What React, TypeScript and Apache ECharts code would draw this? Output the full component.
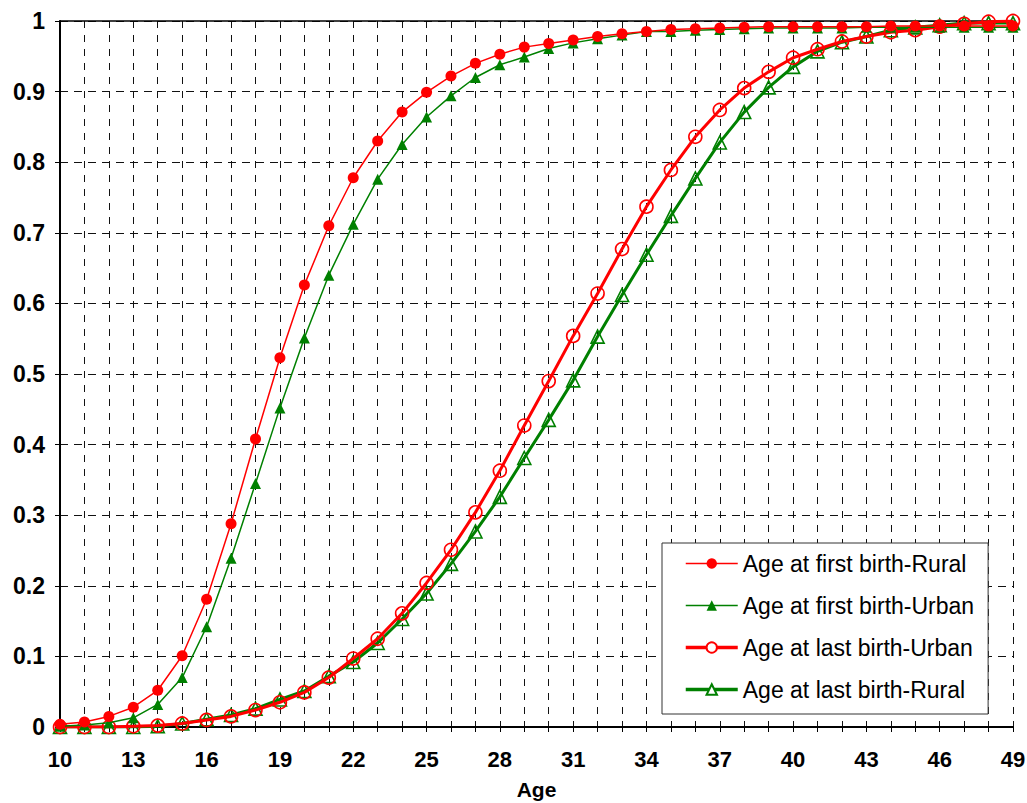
import React, { useEffect, useRef } from "react";
import * as echarts from "echarts";

const ages = [10,11,12,13,14,15,16,17,18,19,20,21,22,23,24,25,26,27,28,29,30,31,32,33,34,35,36,37,38,39,40,41,42,43,44,45,46,47,48,49];

const firstRural = [0.004,0.007,0.015,0.028,0.052,0.101,0.181,0.288,0.408,0.523,0.626,0.710,0.778,0.830,0.871,0.899,0.922,0.940,0.953,0.963,0.968,0.973,0.978,0.982,0.985,0.988,0.989,0.990,0.991,0.992,0.992,0.992,0.992,0.992,0.993,0.993,0.993,0.993,0.993,0.993];
const firstUrban = [0.001,0.003,0.006,0.013,0.032,0.070,0.142,0.239,0.345,0.452,0.551,0.640,0.712,0.776,0.825,0.864,0.894,0.920,0.938,0.949,0.961,0.969,0.975,0.980,0.985,0.985,0.987,0.988,0.989,0.990,0.990,0.990,0.990,0.991,0.991,0.991,0.991,0.991,0.991,0.991];
const lastUrban = [0.000,0.000,0.000,0.001,0.002,0.005,0.010,0.015,0.024,0.035,0.049,0.070,0.097,0.125,0.161,0.204,0.251,0.304,0.363,0.427,0.490,0.554,0.614,0.677,0.737,0.789,0.836,0.874,0.905,0.928,0.948,0.960,0.971,0.978,0.984,0.987,0.992,0.996,0.999,1.000];
const lastRural = [0.000,0.000,0.000,0.000,0.001,0.005,0.011,0.017,0.026,0.039,0.051,0.072,0.092,0.119,0.153,0.189,0.231,0.277,0.326,0.381,0.435,0.491,0.553,0.612,0.669,0.724,0.777,0.828,0.871,0.906,0.935,0.957,0.970,0.978,0.987,0.991,0.994,0.997,0.997,0.997];

const seriesNames = [
  "Age at first birth-Rural",
  "Age at first birth-Urban",
  "Age at last birth-Urban",
  "Age at last birth-Rural",
];

const RED = "#FF0000";
const GREEN = "#008000";

export default function App() {
  const ref = useRef<HTMLDivElement>(null);
  useEffect(() => {
    if (!ref.current) return;
    const chart = echarts.init(ref.current, undefined, { renderer: "svg" });
    const pairs = (vals: number[]) => ages.map((a, i) => [a, vals[i]]);
    const font = "Arial, 'Liberation Sans', sans-serif";
    const mk = (name: string, vals: number[], color: string, symbol: string, hollow: boolean, width: number, z: number) => ({
      name,
      type: "line",
      data: pairs(vals),
      symbol,
      symbolSize: hollow ? 13 : 11,
      showSymbol: true,
      lineStyle: { color, width },
      itemStyle: hollow
        ? { color: "rgba(255,255,255,0)", borderColor: color, borderWidth: 1.6 }
        : { color, borderColor: color, borderWidth: 0 },
      z,
      silent: true,
    });
    chart.setOption({
      animation: false,
      backgroundColor: "#fff",
      textStyle: { fontFamily: font },
      grid: { left: 60, right: 14, top: 21, bottom: 76, containLabel: false, outerBoundsMode: "none" },
      legend: {
        orient: "vertical",
        left: 662,
        top: 543,
        padding: [9, 14, 13, 22],
        itemWidth: 52,
        itemHeight: 13,
        itemGap: 19,
        borderColor: "#333",
        borderWidth: 1,
        backgroundColor: "#fff",
        textStyle: { fontSize: 23, color: "#000", fontFamily: font },
        data: [
          { name: seriesNames[0], lineStyle: { width: 1.5 } },
          { name: seriesNames[1], lineStyle: { width: 1.5 } },
          { name: seriesNames[2], lineStyle: { width: 3.5 }, itemStyle: { color: "#fff" } },
          { name: seriesNames[3], lineStyle: { width: 3.5 }, itemStyle: { color: "#fff" } },
        ],
      },
      xAxis: [
        {
          type: "value",
          min: 10,
          max: 49,
          interval: 1,
          name: "Age",
          nameLocation: "middle",
          nameGap: 52,
          nameTextStyle: { fontSize: 21, fontWeight: "bold", color: "#000", fontFamily: font },
          axisLine: { show: true, onZero: false, lineStyle: { color: "#000", width: 2 } },
          axisTick: { show: true, length: 5, lineStyle: { color: "#000" } },
          axisLabel: {
            margin: 21,
            fontSize: 22,
            fontWeight: "bold",
            color: "#000",
            fontFamily: font,
            formatter: (v: number) => ((v - 10) % 3 === 0 ? String(v) : ""),
          },
          splitLine: { show: true, lineStyle: { color: "#111", width: 1, type: [7, 7] } },
        },
        {
          type: "value",
          position: "top",
          min: 10,
          max: 49,
          interval: 1,
          axisLine: { show: true, onZero: false, lineStyle: { color: "#000", width: 1.5 } },
          axisTick: { show: false },
          axisLabel: { show: false },
          splitLine: { show: false },
        },
      ],
      yAxis: {
        type: "value",
        min: 0,
        max: 1,
        interval: 0.1,
        axisLine: { show: true, onZero: false, lineStyle: { color: "#000", width: 2 } },
        axisTick: { show: true, length: 5, lineStyle: { color: "#000" } },
        axisLabel: {
          margin: 15,
          fontSize: 23,
          fontWeight: "bold",
          color: "#000",
          fontFamily: font,
          formatter: (v: number) => String(Math.round(v * 10) / 10),
        },
        splitLine: { show: true, lineStyle: { color: "#111", width: 1, type: [8, 6] } },
      },
      series: [
        mk(seriesNames[0], firstRural, RED, "circle", false, 1.5, 5),
        mk(seriesNames[1], firstUrban, GREEN, "triangle", false, 1.5, 4),
        mk(seriesNames[2], lastUrban, RED, "circle", true, 3, 3),
        mk(seriesNames[3], lastRural, GREEN, "triangle", true, 3, 2),
      ],
    });
    return () => chart.dispose();
  }, []);
  return <div ref={ref} style={{ width: 1027, height: 803, position: "absolute", left: 0, top: 0 }} />;
}
